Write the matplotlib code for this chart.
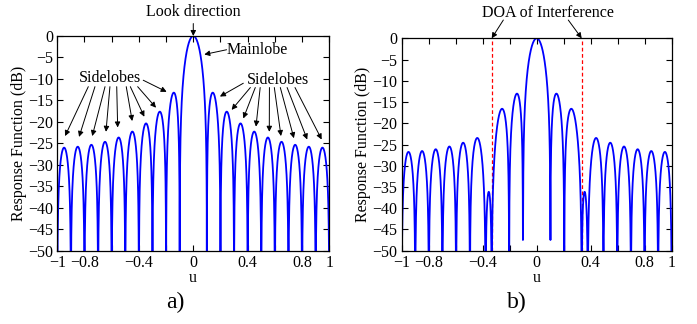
import numpy as np
import matplotlib
matplotlib.use('Agg')
import matplotlib.pyplot as plt

# *****************************************************************************

# Array set-up (nulls every 0.1 in u -> 20 elements)
N_ELEMENTS = 20
LOOK_U = 0.0
INTERF_U = [-1.0/3.0, 1.0/3.0]
U_GRID = np.linspace(-1.0, 1.0, 2001)

Y_TICKS = [0, -5, -10, -15, -20, -25, -30, -35, -40, -45, -50]
X_TICKS = [-1, -0.8, -0.6, -0.4, -0.2, 0, 0.2, 0.4, 0.6, 0.8, 1]
X_TICK_LABS = ['\u22121', '\u22120.8', '', '\u22120.4', '', '0', '', '0.4', '', '0.8', '1']

# Arrow tips / tails for the 'Sidelobes' labels (u, dB)
SL_LEFT_TIPS = [(-0.943, -23.3), (-0.840, -23.5), (-0.743, -23.3), (-0.642, -22.3),
                (-0.556, -21.3), (-0.449, -19.8), (-0.360, -18.8), (-0.274, -16.7),
                (-0.196, -13.0)]
SL_LEFT_TAILS = [(-0.772, -11.8), (-0.723, -11.8), (-0.649, -11.8), (-0.613, -11.8),
                 (-0.563, -11.8), (-0.493, -11.8), (-0.463, -11.8), (-0.409, -11.8),
                 (-0.368, -10.3)]
SL_RIGHT_TIPS = [(0.196, -14.1), (0.282, -17.2), (0.368, -19.2), (0.461, -21.1),
                 (0.559, -22.3), (0.645, -23.3), (0.740, -23.8), (0.838, -24.1),
                 (0.944, -24.1)]
SL_RIGHT_TAILS = [(0.368, -11.0), (0.420, -12.0), (0.456, -12.0), (0.492, -12.0),
                  (0.560, -12.0), (0.596, -12.0), (0.640, -12.0), (0.690, -12.0),
                  (0.748, -12.0)]

FSIZE = 11.5

# *****************************************************************************


def arr_fac(u, u0):
    psi = np.pi*(u - u0)/2.0
    num = np.sin(N_ELEMENTS*psi)
    den = N_ELEMENTS*np.sin(psi)
    out = np.ones_like(psi)
    nz = np.abs(den) > 1e-12
    out[nz] = num[nz]/den[nz]
    return out


def to_db(x):
    return 20.0*np.log10(np.abs(x) + 1e-12)


def style_axes(axs):
    axs.set_xlim(-1, 1)
    axs.set_ylim(-50, 0)
    axs.set_xticks(X_TICKS)
    axs.set_xticklabels(X_TICK_LABS)
    axs.set_yticks(Y_TICKS)
    axs.set_yticklabels([str(v).replace('-', '\u2212') for v in Y_TICKS])
    axs.tick_params(direction='in', top=True, right=True, length=4,
                    width=0.8, labelsize=FSIZE, pad=3)
    for spn in axs.spines.values():
        spn.set_linewidth(0.9)
    axs.set_xlabel('u', fontsize=FSIZE, labelpad=-0.5)
    axs.set_ylabel('Response Function (dB)', fontsize=FSIZE, labelpad=1)


def arrow(axs, tip, tail):
    axs.annotate('', xy=tip, xytext=tail, annotation_clip=False,
                 arrowprops=dict(arrowstyle='-|>', color='k', lw=0.7,
                                 mutation_scale=8, shrinkA=0, shrinkB=0))


def make_fig():

    plt.rcParams['font.family'] = ['Liberation Serif', 'DejaVu Serif']

    # Quiescent pattern
    quiet = arr_fac(U_GRID, LOOK_U)

    # Null-steered pattern (interference beams subtracted)
    a_int = arr_fac(np.array([INTERF_U[1]]), LOOK_U)[0]
    a_cross = arr_fac(np.array([INTERF_U[1]]), INTERF_U[0])[0]
    cwt = a_int/(1.0 + a_cross)
    adapt = arr_fac(U_GRID, LOOK_U)
    for ui in INTERF_U:
        adapt = adapt - cwt*arr_fac(U_GRID, ui)
    adapt = adapt/(1.0 - 2.0*cwt*a_int)

    fig01 = plt.figure(figsize=(6.97, 3.24), dpi=100)

    # a) Quiescent
    axs01 = fig01.add_axes([0.0822, 0.2262, 0.3902, 0.6627])
    axs01.plot(U_GRID, to_db(quiet), color='b', lw=1.3)
    style_axes(axs01)

    axs01.text(0.0, 5.5, 'Look direction', fontsize=FSIZE, ha='center', va='center')
    arrow(axs01, (0.0, 0.0), (0.0, 2.9))
    axs01.text(0.245, -3.2, 'Mainlobe', fontsize=FSIZE, ha='left', va='center')
    arrow(axs01, (0.081, -4.3), (0.245, -3.2))

    axs01.text(-0.61, -9.8, 'Sidelobes', fontsize=FSIZE, ha='center', va='center')
    axs01.text(0.625, -10.2, 'Sidelobes', fontsize=FSIZE, ha='center', va='center')
    for tip, tail in zip(SL_LEFT_TIPS, SL_LEFT_TAILS):
        arrow(axs01, tip, tail)
    for tip, tail in zip(SL_RIGHT_TIPS, SL_RIGHT_TAILS):
        arrow(axs01, tip, tail)

    # b) Interference nulling
    axs02 = fig01.add_axes([0.5763, 0.2262, 0.3874, 0.6556])
    for ui in INTERF_U:
        axs02.plot([ui, ui], [-50, 0], color='r', lw=0.9, ls=(0, (3, 2)))
    axs02.plot(U_GRID, to_db(adapt), color='b', lw=1.3)
    style_axes(axs02)

    axs02.text(0.086, 5.9, 'DOA of Interference', fontsize=FSIZE,
               ha='center', va='center')
    arrow(axs02, (INTERF_U[0], 0.0), (-0.247, 4.3))
    arrow(axs02, (INTERF_U[1], 0.0), (0.234, 4.3))

    fig01.text(0.251, 0.068, 'a)', fontsize=17, ha='center', va='center')
    fig01.text(0.742, 0.068, 'b)', fontsize=17, ha='center', va='center')

    plt.savefig('out.png', dpi=100)
    plt.close()

    return None

# *****************************************************************************


if (__name__ == "__main__"):

    make_fig()

# *****************************************************************************
